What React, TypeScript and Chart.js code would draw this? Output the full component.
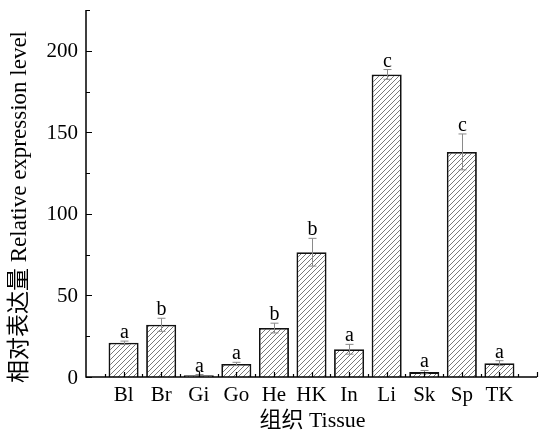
import React, { useEffect, useRef } from "react";
import { Chart, registerables } from "chart.js";

Chart.register(...registerables);

const tissues = ["Bl", "Br", "Gi", "Go", "He", "HK", "In", "Li", "Sk", "Sp", "TK"];
const expression = [21, 32, 1, 8, 30, 76.5, 17, 185.5, 3, 138, 8.5];
const errors = [1, 4, 0.5, 1, 3, 8.5, 3, 3, 1, 11, 1.5];
const letters = ["a", "b", "a", "a", "b", "b", "a", "c", "a", "c", "a"];
const yMajorTicks = [0, 50, 100, 150, 200];
const yMinorTicks = [25, 75, 125, 175, 225];
const yTitle = "相对表达量 Relative expression level";
const xTitle = "组织 Tissue";

const SERIF = '"Liberation Serif", "Noto Sans CJK SC", serif';

function makeHatch(): CanvasPattern | string {
  const size = 5;
  const c = document.createElement("canvas");
  c.width = size;
  c.height = size;
  const g = c.getContext("2d");
  if (!g) return "#fff";
  g.fillStyle = "#ffffff";
  g.fillRect(0, 0, size, size);
  g.strokeStyle = "#6a6a6a";
  g.lineWidth = 0.9;
  g.beginPath();
  g.moveTo(-1, size + 1);
  g.lineTo(size + 1, -1);
  g.moveTo(-1, 1);
  g.lineTo(1, -1);
  g.moveTo(size - 1, size + 1);
  g.lineTo(size + 1, size - 1);
  g.stroke();
  const p = g.createPattern(c, "repeat");
  return p || "#fff";
}

const decorPlugin = {
  id: "decor",
  afterDatasetsDraw(chart: any) {
    const ctx = chart.ctx as CanvasRenderingContext2D;
    const xs = chart.scales.x;
    const ys = chart.scales.y;
    const area = chart.chartArea;
    ctx.save();
    // error bars
    ctx.strokeStyle = "#8a8a8a";
    ctx.lineWidth = 1;
    tissues.forEach((_, i) => {
      const x = Math.round(xs.getPixelForValue(i + 1)) + 0.5;
      const top = ys.getPixelForValue(expression[i] + errors[i]);
      const bot = ys.getPixelForValue(expression[i] - errors[i]);
      ctx.beginPath();
      ctx.moveTo(x, top);
      ctx.lineTo(x, bot);
      ctx.moveTo(x - 4, top);
      ctx.lineTo(x + 4, top);
      ctx.moveTo(x - 4, bot);
      ctx.lineTo(x + 4, bot);
      ctx.stroke();
      // letters
      ctx.fillStyle = "#000";
      ctx.font = `20px ${SERIF}`;
      ctx.textAlign = "center";
      ctx.textBaseline = "alphabetic";
      ctx.fillText(letters[i], x, top - 3);
    });

    // axes
    ctx.strokeStyle = "#000";
    ctx.lineWidth = 1.5;
    ctx.beginPath();
    ctx.moveTo(area.left, area.top);
    ctx.lineTo(area.left, area.bottom);
    ctx.lineTo(area.right, area.bottom);
    ctx.stroke();

    ctx.lineWidth = 1.2;
    ctx.beginPath();
    yMajorTicks.forEach((v) => {
      const y = Math.round(ys.getPixelForValue(v)) + 0.5;
      ctx.moveTo(area.left, y);
      ctx.lineTo(area.left + 6, y);
    });
    yMinorTicks.forEach((v) => {
      const y = Math.round(ys.getPixelForValue(v)) + 0.5;
      ctx.moveTo(area.left, y);
      ctx.lineTo(area.left + 4, y);
    });
    for (let k = 1; k <= 24; k++) {
      const v = k / 2;
      const x = Math.round(xs.getPixelForValue(v)) + 0.5;
      ctx.moveTo(x, area.bottom);
      ctx.lineTo(x, area.bottom - (k % 2 === 0 ? 5 : 3));
    }
    ctx.stroke();

    // tick labels
    ctx.fillStyle = "#000";
    ctx.font = `21px ${SERIF}`;
    ctx.textAlign = "right";
    ctx.textBaseline = "middle";
    yMajorTicks.forEach((v) => {
      ctx.fillText(String(v), area.left - 8, ys.getPixelForValue(v) + 1);
    });
    ctx.textAlign = "center";
    ctx.textBaseline = "middle";
    tissues.forEach((t, i) => {
      ctx.fillText(t, xs.getPixelForValue(i + 1), area.bottom + 18);
    });

    // titles
    ctx.font = `22px ${SERIF}`;
    ctx.fillText(xTitle, (area.left + area.right) / 2 + 1, area.bottom + 44);
    ctx.save();
    ctx.font = `23px ${SERIF}`;
    ctx.translate(20, 207);
    ctx.rotate(-Math.PI / 2);
    ctx.fillText(yTitle, 0, 0);
    ctx.restore();

    ctx.restore();
  },
};

export default function App() {
  const ref = useRef<HTMLCanvasElement | null>(null);
  useEffect(() => {
    document.body.style.margin = "0";
    const canvas = ref.current;
    if (!canvas) return;
    const hatch = makeHatch();
    const chart = new Chart(canvas, {
      type: "bar",
      data: {
        datasets: [
          {
            data: expression.map((v, i) => ({ x: i + 1, y: v })),
            backgroundColor: hatch as any,
            borderColor: "#111",
            borderWidth: 1.8,
            borderSkipped: "bottom",
            barPercentage: 1,
            categoryPercentage: 0.8,
          },
        ],
      },
      options: {
        animation: false,
        responsive: false,
        maintainAspectRatio: false,
        layout: { padding: { left: 86, right: 2, top: 10, bottom: 53 } },
        plugins: {
          legend: { display: false },
          tooltip: { enabled: false },
          title: { display: false },
        },
        scales: {
          x: { type: "linear", min: 0, max: 12, offset: false, display: false },
          y: { type: "linear", min: 0, max: 225, display: false },
        },
      },
      plugins: [decorPlugin],
    });
    return () => chart.destroy();
  }, []);
  return (
    <div style={{ width: 539, height: 430, background: "#fff" }}>
      <canvas ref={ref} width={539} height={430} style={{ display: "block" }} />
    </div>
  );
}
